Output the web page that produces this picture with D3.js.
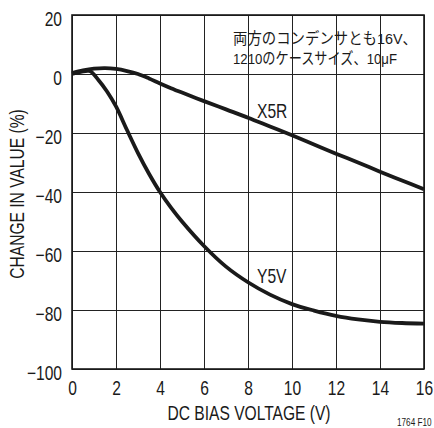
<!DOCTYPE html>
<html>
<head>
<meta charset="utf-8">
<script src="https://cdn.jsdelivr.net/npm/d3@7"></script>
<style>
  html, body { margin: 0; padding: 0; background: #fff; }
  svg { display: block; }
  .narrow { font-family: "Liberation Sans", Arial, sans-serif; }
</style>
</head>
<body>
<svg id="chart" width="434" height="428"></svg>
<script>
// ---- data ----
const xTicks = [0, 2, 4, 6, 8, 10, 12, 14, 16];
const yTicks = [20, 0, -20, -40, -60, -80, -100];

const x5rVoltage = [0, 0.5, 1, 1.5, 2, 2.5, 3, 3.5, 4, 4.5, 5, 6, 7, 8, 9, 10, 11, 12, 13, 14, 15, 16];
const x5rChange  = [0.3, 1.2, 1.8, 2.0, 1.7, 1.0, 0, -1.5, -3.2, -4.8, -6.3, -9.2, -12.0, -14.8, -17.8, -20.8, -23.9, -27.0, -30.0, -33.1, -36.1, -39.1];

const y5vVoltage = [0, 0.4, 0.8, 1.2, 1.6, 2, 2.5, 3, 3.5, 4, 4.5, 5, 6, 7, 8, 9, 10, 11, 12, 13, 14, 15, 16];
const y5vChange  = [0, 0.7, 1.0, -2.0, -6.0, -11.0, -19.0, -26.8, -33.8, -40, -45.3, -50, -58.3, -65.3, -70.6, -74.8, -78, -80.2, -82, -83.2, -84, -84.4, -84.6];

const seriesLabels = ["X5R", "Y5V"];
const noteLines = ["両方のコンデンサとも16V、", "1210のケースサイズ、10μF"];
const xTitle = "DC BIAS VOLTAGE (V)";
const yTitle = "CHANGE IN VALUE (%)";
const figId = "1764 F10";

// ---- layout ----
const svg = d3.select("#chart");
const L = 72, R = 424, T = 15, B = 369;
const FS = 20;
const SX = 0.78; // condensed look
const x = d3.scaleLinear().domain([0, 16]).range([L, R]);
const y = d3.scaleLinear().domain([-100, 20]).range([B, T]);
const ink = "#1a1a1a";

// grid via axes
const gx = svg.append("g").attr("transform", `translate(0,${B})`)
  .call(d3.axisBottom(x).tickValues(xTicks).tickSize(-(B - T)).tickPadding(0).tickFormat(""));
gx.select(".domain").remove();
gx.selectAll("line").attr("stroke", "#222").attr("stroke-width", 1);

const gy = svg.append("g").attr("transform", `translate(${L},0)`)
  .call(d3.axisLeft(y).tickValues(yTicks).tickSize(-(R - L)).tickFormat(""));
gy.select(".domain").remove();
gy.selectAll("line").attr("stroke", "#222").attr("stroke-width", 1);

// frame
svg.append("rect").attr("x", L).attr("y", T).attr("width", R - L).attr("height", B - T)
  .attr("fill", "none").attr("stroke", ink).attr("stroke-width", 1.6);

// tick labels via axes
const ax = svg.append("g").attr("class", "narrow").attr("transform", `translate(0,${B})`)
  .call(d3.axisBottom(x).tickValues(xTicks).tickSize(0).tickPadding(0).tickFormat(d3.format("d")));
ax.select(".domain").remove();
ax.selectAll("text").attr("y", 26).attr("dy", null).attr("x", 0)
  .attr("transform", `scale(${SX},1)`)
  .attr("font-size", FS).attr("fill", ink).attr("font-family", null);

const ay = svg.append("g").attr("class", "narrow").attr("transform", `translate(${L},0)`)
  .call(d3.axisLeft(y).tickValues(yTicks).tickSize(0).tickPadding(10).tickFormat(d3.format("d")));
ay.select(".domain").remove();
ay.selectAll("text").attr("dy", null).attr("y", 10).attr("x", -10 / SX)
  .attr("transform", `scale(${SX},1)`)
  .attr("font-size", FS).attr("fill", ink).attr("font-family", null);

// titles
svg.append("text").attr("class", "narrow")
  .attr("transform", `translate(${(L + R) / 2 + 1},420) scale(${SX},1)`)
  .attr("text-anchor", "middle")
  .attr("font-size", FS).attr("fill", ink).text(xTitle);

svg.append("text").attr("class", "narrow")
  .attr("transform", `translate(24,${(T + B) / 2 + 2}) rotate(-90) scale(${SX},1)`)
  .attr("text-anchor", "middle").attr("font-size", FS).attr("fill", ink).text(yTitle);

svg.append("text").attr("class", "narrow")
  .attr("transform", `translate(397,426) scale(${SX},1)`)
  .attr("font-size", 10.5).attr("fill", ink).text(figId);

// curves
const line = d3.line().x(d => x(d[0])).y(d => y(d[1])).curve(d3.curveCatmullRom.alpha(0.5));
const series = [
  d3.zip(x5rVoltage, x5rChange),
  d3.zip(y5vVoltage, y5vChange)
];
svg.selectAll("path.curve").data(series).enter().append("path")
  .attr("class", "curve").attr("d", line)
  .attr("fill", "none").attr("stroke", ink).attr("stroke-width", 3.8)
  .attr("stroke-linejoin", "round").attr("stroke-linecap", "butt");

// series labels
const labelPos = [[8.41, -14.9], [8.41, -70.8]];
svg.selectAll("text.slabel").data(seriesLabels).enter().append("text")
  .attr("class", "slabel narrow")
  .attr("transform", (d, i) => `translate(${x(labelPos[i][0])},${y(labelPos[i][1])}) scale(${SX},1)`)
  .attr("font-size", FS).attr("fill", ink).text(d => d);

// note
const noteWidths = [184, 164];
svg.selectAll("text.note").data(noteLines).enter().append("text")
  .attr("class", "note")
  .attr("x", 233).attr("y", (d, i) => 44 + i * 20)
  .attr("font-family", "'Liberation Sans', 'Noto Sans CJK JP', sans-serif")
  .attr("font-size", 15.5).attr("fill", ink)
  .attr("textLength", (d, i) => noteWidths[i]).attr("lengthAdjust", "spacingAndGlyphs")
  .text(d => d);
</script>
</body>
</html>
